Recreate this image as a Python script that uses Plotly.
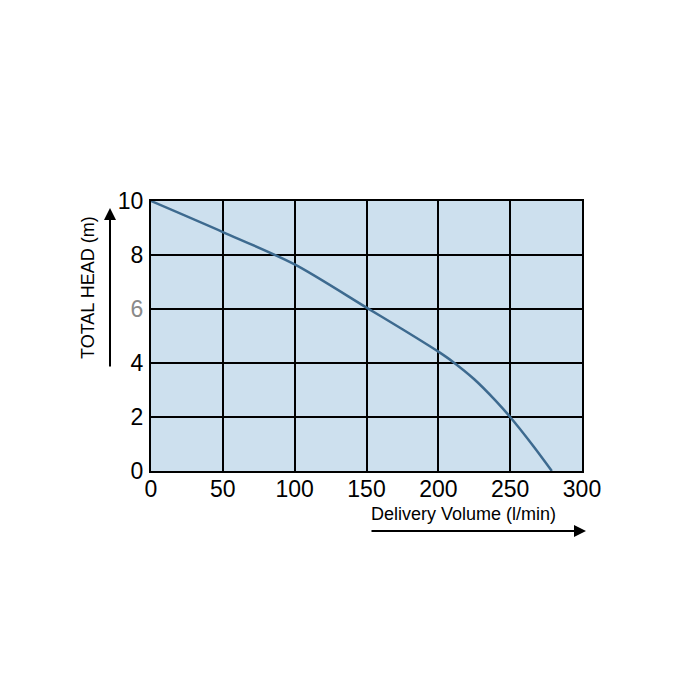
import plotly.graph_objects as go

flow = [0, 50, 100, 150, 175, 200, 210, 225, 240, 250, 265, 279]
head = [10, 8.85, 7.65, 6.05, 5.25, 4.42, 4.05, 3.4, 2.6, 2.0, 1.0, 0]

x_ticks = [0, 50, 100, 150, 200, 250, 300]
y_ticks = [0, 2, 4, 6, 8, 10]
y_ticktext = ["0", "2", "4", "<span style='color:#8a8a8a'>6</span>", "8", "10"]

OFF = 8  # page body margin
L, R, T, B = 151 - OFF, 118 + OFF, 201 - OFF, 229 + OFF

fig = go.Figure()
fig.add_trace(go.Scatter(x=flow, y=head, mode="lines",
                         line=dict(color="#3d6a8f", width=2.5, shape="spline", smoothing=0.8),
                         showlegend=False))

fig.update_layout(
    width=700, height=700,
    margin=dict(l=L, r=R, t=T, b=B),
    paper_bgcolor="white", plot_bgcolor="#cde0ee",
    font=dict(family="Liberation Sans, Arial, sans-serif", color="black"),
)
fig.update_xaxes(range=[0, 300], tickvals=x_ticks, showgrid=True, gridcolor="black",
                 gridwidth=2, showline=True, linecolor="black", linewidth=2, mirror=True,
                 zeroline=False, tickfont=dict(size=23), ticks="", ticklabelstandoff=-4)
fig.update_yaxes(range=[0, 10], tickvals=y_ticks, ticktext=y_ticktext, showgrid=True,
                 gridcolor="black", gridwidth=2, showline=True, linecolor="black",
                 linewidth=2, mirror=True, zeroline=False, tickfont=dict(size=23), ticks="",
                 ticklabelstandoff=1)

pw = 700 - L - R
ph = 700 - T - B
def px(xp):
    return (xp - OFF - L) / pw
def py(yp):
    return (700 - B - (yp - OFF)) / ph

fig.add_annotation(text="TOTAL HEAD (m)", xref="paper", yref="paper",
                   x=px(88), y=py(288), textangle=-90, showarrow=False,
                   font=dict(size=18), xanchor="center", yanchor="middle")
fig.add_annotation(text="Delivery Volume (l/min)", xref="paper", yref="paper",
                   x=px(369), y=py(514), showarrow=False, font=dict(size=18),
                   xanchor="left", yanchor="middle")
# arrows
fig.add_annotation(xref="paper", yref="paper", x=px(110), y=py(208), ax=0, ay=160,
                   showarrow=True, arrowhead=2, arrowsize=1.2, arrowwidth=2,
                   arrowcolor="black", text="")
fig.add_annotation(xref="paper", yref="paper", x=px(586), y=py(531), ax=-216, ay=0,
                   showarrow=True, arrowhead=2, arrowsize=1.2, arrowwidth=2,
                   arrowcolor="black", text="")

fig.write_html("out.html")
